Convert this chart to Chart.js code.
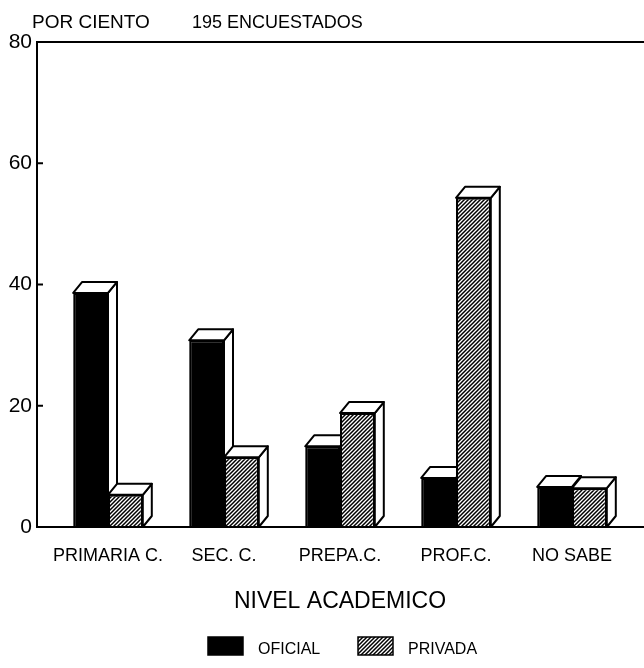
<!DOCTYPE html>
<html>
<head>
<meta charset="utf-8">
<script src="https://cdn.jsdelivr.net/npm/chart.js@4/dist/chart.umd.min.js"></script>
<style>
  html, body { margin: 0; padding: 0; background: #fff; }
  #wrap { width: 644px; height: 668px; position: relative; }
</style>
</head>
<body>
<div id="wrap"><canvas id="chart"></canvas></div>
<script>
// === DATOS ===
const categorias = ["PRIMARIA C.", "SEC. C.", "PREPA.C.", "PROF.C.", "NO SABE"];
const oficial = [38.6, 30.8, 13.3, 8.1, 6.6];
const privada = [5.3, 11.5, 18.8, 54.3, 6.4];
const yTicks = [0, 20, 40, 60, 80];

const SANS = "'Liberation Sans', Arial, sans-serif";
const DX = 9, DY = 11; // profundidad 3D

// patron rayado ////
function makeHatch() {
  const s = 4;
  const c = document.createElement("canvas");
  c.width = s; c.height = s;
  const g = c.getContext("2d");
  g.fillStyle = "#fff";
  g.fillRect(0, 0, s, s);
  g.strokeStyle = "#000";
  g.lineWidth = 1.5;
  g.beginPath();
  g.moveTo(0, s); g.lineTo(s, 0);
  g.moveTo(-1, 1); g.lineTo(1, -1);
  g.moveTo(s - 1, s + 1); g.lineTo(s + 1, s - 1);
  g.stroke();
  return g.createPattern(c, "repeat");
}
const hatch = makeHatch();

// caras superior y lateral de cada barra (se dibujan detras del frente)
const depthPlugin = {
  id: "depth3d",
  beforeDatasetsDraw(chart) {
    const ctx = chart.ctx;
    const metas = chart.data.datasets.map((d, i) => chart.getDatasetMeta(i));
    ctx.save();
    ctx.fillStyle = "#fff";
    ctx.strokeStyle = "#000";
    ctx.lineWidth = 2;
    ctx.lineJoin = "round";
    for (let j = 0; j < chart.data.labels.length; j++) {
      metas.forEach(meta => {
        const { x, y, base, width } = meta.data[j].getProps(["x", "y", "base", "width"], true);
        const l = x - width / 2, r = x + width / 2;
        ctx.beginPath();
        ctx.moveTo(r, y); ctx.lineTo(r + DX, y - DY); ctx.lineTo(r + DX, base - DY); ctx.lineTo(r, base);
        ctx.closePath(); ctx.fill(); ctx.stroke();
        ctx.beginPath();
        ctx.moveTo(l, y); ctx.lineTo(l + DX, y - DY); ctx.lineTo(r + DX, y - DY); ctx.lineTo(r, y);
        ctx.closePath(); ctx.fill(); ctx.stroke();
      });
    }
    ctx.restore();
  },
  afterDatasetsDraw(chart) {
    // marco: eje y, linea superior, linea base
    const ctx = chart.ctx;
    const { top, bottom, left } = chart.chartArea;
    const ax = left - 13;
    ctx.save();
    ctx.strokeStyle = "#000";
    ctx.lineWidth = 2;
    ctx.beginPath();
    ctx.moveTo(chart.width, top); ctx.lineTo(ax, top); ctx.lineTo(ax, bottom); ctx.lineTo(chart.width, bottom);
    ctx.stroke();
    const yScale = chart.scales.y;
    yTicks.forEach(v => {
      const py = yScale.getPixelForValue(v);
      ctx.beginPath(); ctx.moveTo(ax, py); ctx.lineTo(ax + 6, py); ctx.stroke();
    });
    ctx.restore();
  },
  afterDraw(chart) {
    const ctx = chart.ctx;
    ctx.save();
    ctx.fillStyle = "#000";
    ctx.textBaseline = "alphabetic";
    ctx.font = "19px " + SANS;
    ctx.fillText("POR CIENTO", 32, 28);
    ctx.font = "18px " + SANS;
    ctx.fillText("195 ENCUESTADOS", 192, 28);

    // leyenda
    ctx.font = "16px " + SANS;
    let lx = 208;
    chart.data.datasets.forEach(ds => {
      ctx.fillStyle = ds.backgroundColor;
      ctx.fillRect(lx, 637, 35, 18);
      ctx.strokeStyle = "#000";
      ctx.lineWidth = 1.5;
      ctx.strokeRect(lx, 637, 35, 18);
      ctx.fillStyle = "#000";
      ctx.fillText(ds.label, lx + 50, 654);
      lx += 150;
    });
    ctx.restore();
  }
};

new Chart(document.getElementById("chart"), {
  type: "bar",
  data: {
    labels: categorias,
    datasets: [
      { label: "OFICIAL", data: oficial, backgroundColor: "#000", borderColor: "#000", borderWidth: 2 },
      { label: "PRIVADA", data: privada, backgroundColor: hatch, borderColor: "#000", borderWidth: 2 }
    ]
  },
  options: {
    responsive: true,
    maintainAspectRatio: false,
    animation: false,
    layout: { padding: { top: 42, right: 14, bottom: 0, left: 0 } },
    datasets: { bar: { categoryPercentage: 0.6, barPercentage: 1.0 } },
    plugins: { legend: { display: false }, tooltip: { enabled: false } },
    scales: {
      x: {
        grid: { display: false, drawTicks: false },
        border: { display: false },
        ticks: {
          color: "#000", padding: 18, font: { family: SANS, size: 18 },
          maxRotation: 0, minRotation: 0, autoSkip: false
        },
        title: {
          display: true, text: "NIVEL ACADEMICO", color: "#000",
          font: { family: SANS, size: 23 }, padding: { top: 0, bottom: 53 }
        },
        afterFit: s => { s.height = 141; }
      },
      y: {
        min: 0, max: 80,
        afterBuildTicks: s => { s.ticks = yTicks.map(v => ({ value: v })); },
        grid: { display: false, drawTicks: false },
        border: { display: false },
        ticks: { color: "#000", padding: 18, font: { family: SANS, size: 21 } },
        afterFit: s => { s.width = 50; }
      }
    }
  },
  plugins: [depthPlugin]
});
</script>
</body>
</html>
